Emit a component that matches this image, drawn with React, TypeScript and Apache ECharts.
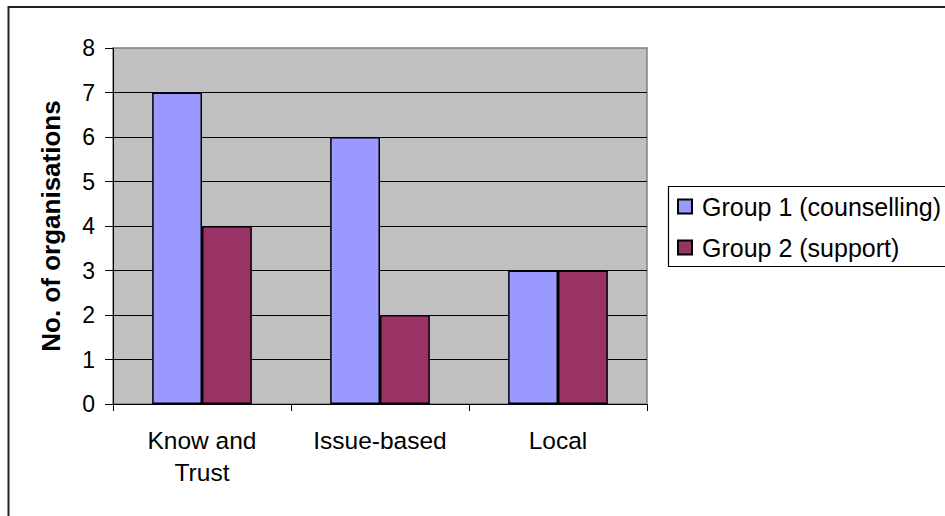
import React, { useEffect, useRef } from "react";
import * as echarts from "echarts";

const categories = ["Know and\nTrust", "Issue-based", "Local"];
const group1 = [7, 6, 3];
const group2 = [4, 2, 3];
const seriesNames = ["Group 1 (counselling)", "Group 2 (support)"];
const yTicks = { min: 0, max: 8, interval: 1 };

const FONT = "'Liberation Sans', Arial, sans-serif";

export default function App() {
  const ref = useRef<HTMLDivElement>(null);

  useEffect(() => {
    if (!ref.current) return;
    const chart = echarts.init(ref.current, undefined, { renderer: "svg" });
    chart.setOption({
      animation: false,
      backgroundColor: "#ffffff",
      textStyle: { fontFamily: FONT, color: "#000" },
      graphic: [
        {
          type: "rect",
          shape: { x: 8.5, y: 7, width: 950, height: 520 },
          style: { fill: "none", stroke: "#222", lineWidth: 2 },
          silent: true,
        },
        {
          type: "rect",
          shape: { x: 668.5, y: 186.5, width: 300, height: 80 },
          style: { fill: "#fff", stroke: "#000", lineWidth: 1.2 },
          silent: true,
          z: 0,
        },
      ],
      grid: {
        left: 113,
        top: 48,
        right: 298,
        bottom: 112,
        show: true,
        backgroundColor: "#C0C0C0",
        borderColor: "#808080",
        borderWidth: 1.5,
      },
      legend: {
        orient: "vertical",
        left: 677,
        top: 194,
        padding: 0,
        itemWidth: 14,
        itemHeight: 14,
        itemGap: 16,
        icon: "rect",
        textStyle: { fontFamily: FONT, fontSize: 25, lineHeight: 25, color: "#000", padding: [0, 0, 0, 5] },
        data: seriesNames,
        z: 5,
      },
      xAxis: {
        type: "category",
        data: categories,
        axisLine: { lineStyle: { color: "#000", width: 1 } },
        axisTick: { show: true, length: 7, lineStyle: { color: "#000" } },
        axisLabel: { fontFamily: FONT, fontSize: 24.5, lineHeight: 32, color: "#000", margin: 20 },
      },
      yAxis: {
        type: "value",
        min: yTicks.min,
        max: yTicks.max,
        interval: yTicks.interval,
        name: "No. of organisations",
        nameLocation: "middle",
        nameGap: 49,
        nameTextStyle: { fontFamily: FONT, fontSize: 26, fontWeight: "bold", color: "#000" },
        axisLine: { show: true, lineStyle: { color: "#000", width: 1 } },
        axisTick: { show: true, length: 8, lineStyle: { color: "#000" } },
        axisLabel: { fontFamily: FONT, fontSize: 23, color: "#000", margin: 18 },
        splitLine: { show: true, showMaxLine: false, lineStyle: { color: "#000", width: 1 } },
      },
      series: [
        {
          name: seriesNames[0],
          type: "bar",
          data: group1,
          barGap: "0%",
          barCategoryGap: "44%",
          itemStyle: { color: "#9999FF", borderColor: "#000", borderWidth: 1.5 },
        },
        {
          name: seriesNames[1],
          type: "bar",
          data: group2,
          itemStyle: { color: "#993366", borderColor: "#000", borderWidth: 1.5 },
        },
      ],
    });
    return () => chart.dispose();
  }, []);

  return (
    <div
      ref={ref}
      style={{ position: "fixed", left: 0, top: 0, width: 945, height: 516 }}
    />
  );
}
